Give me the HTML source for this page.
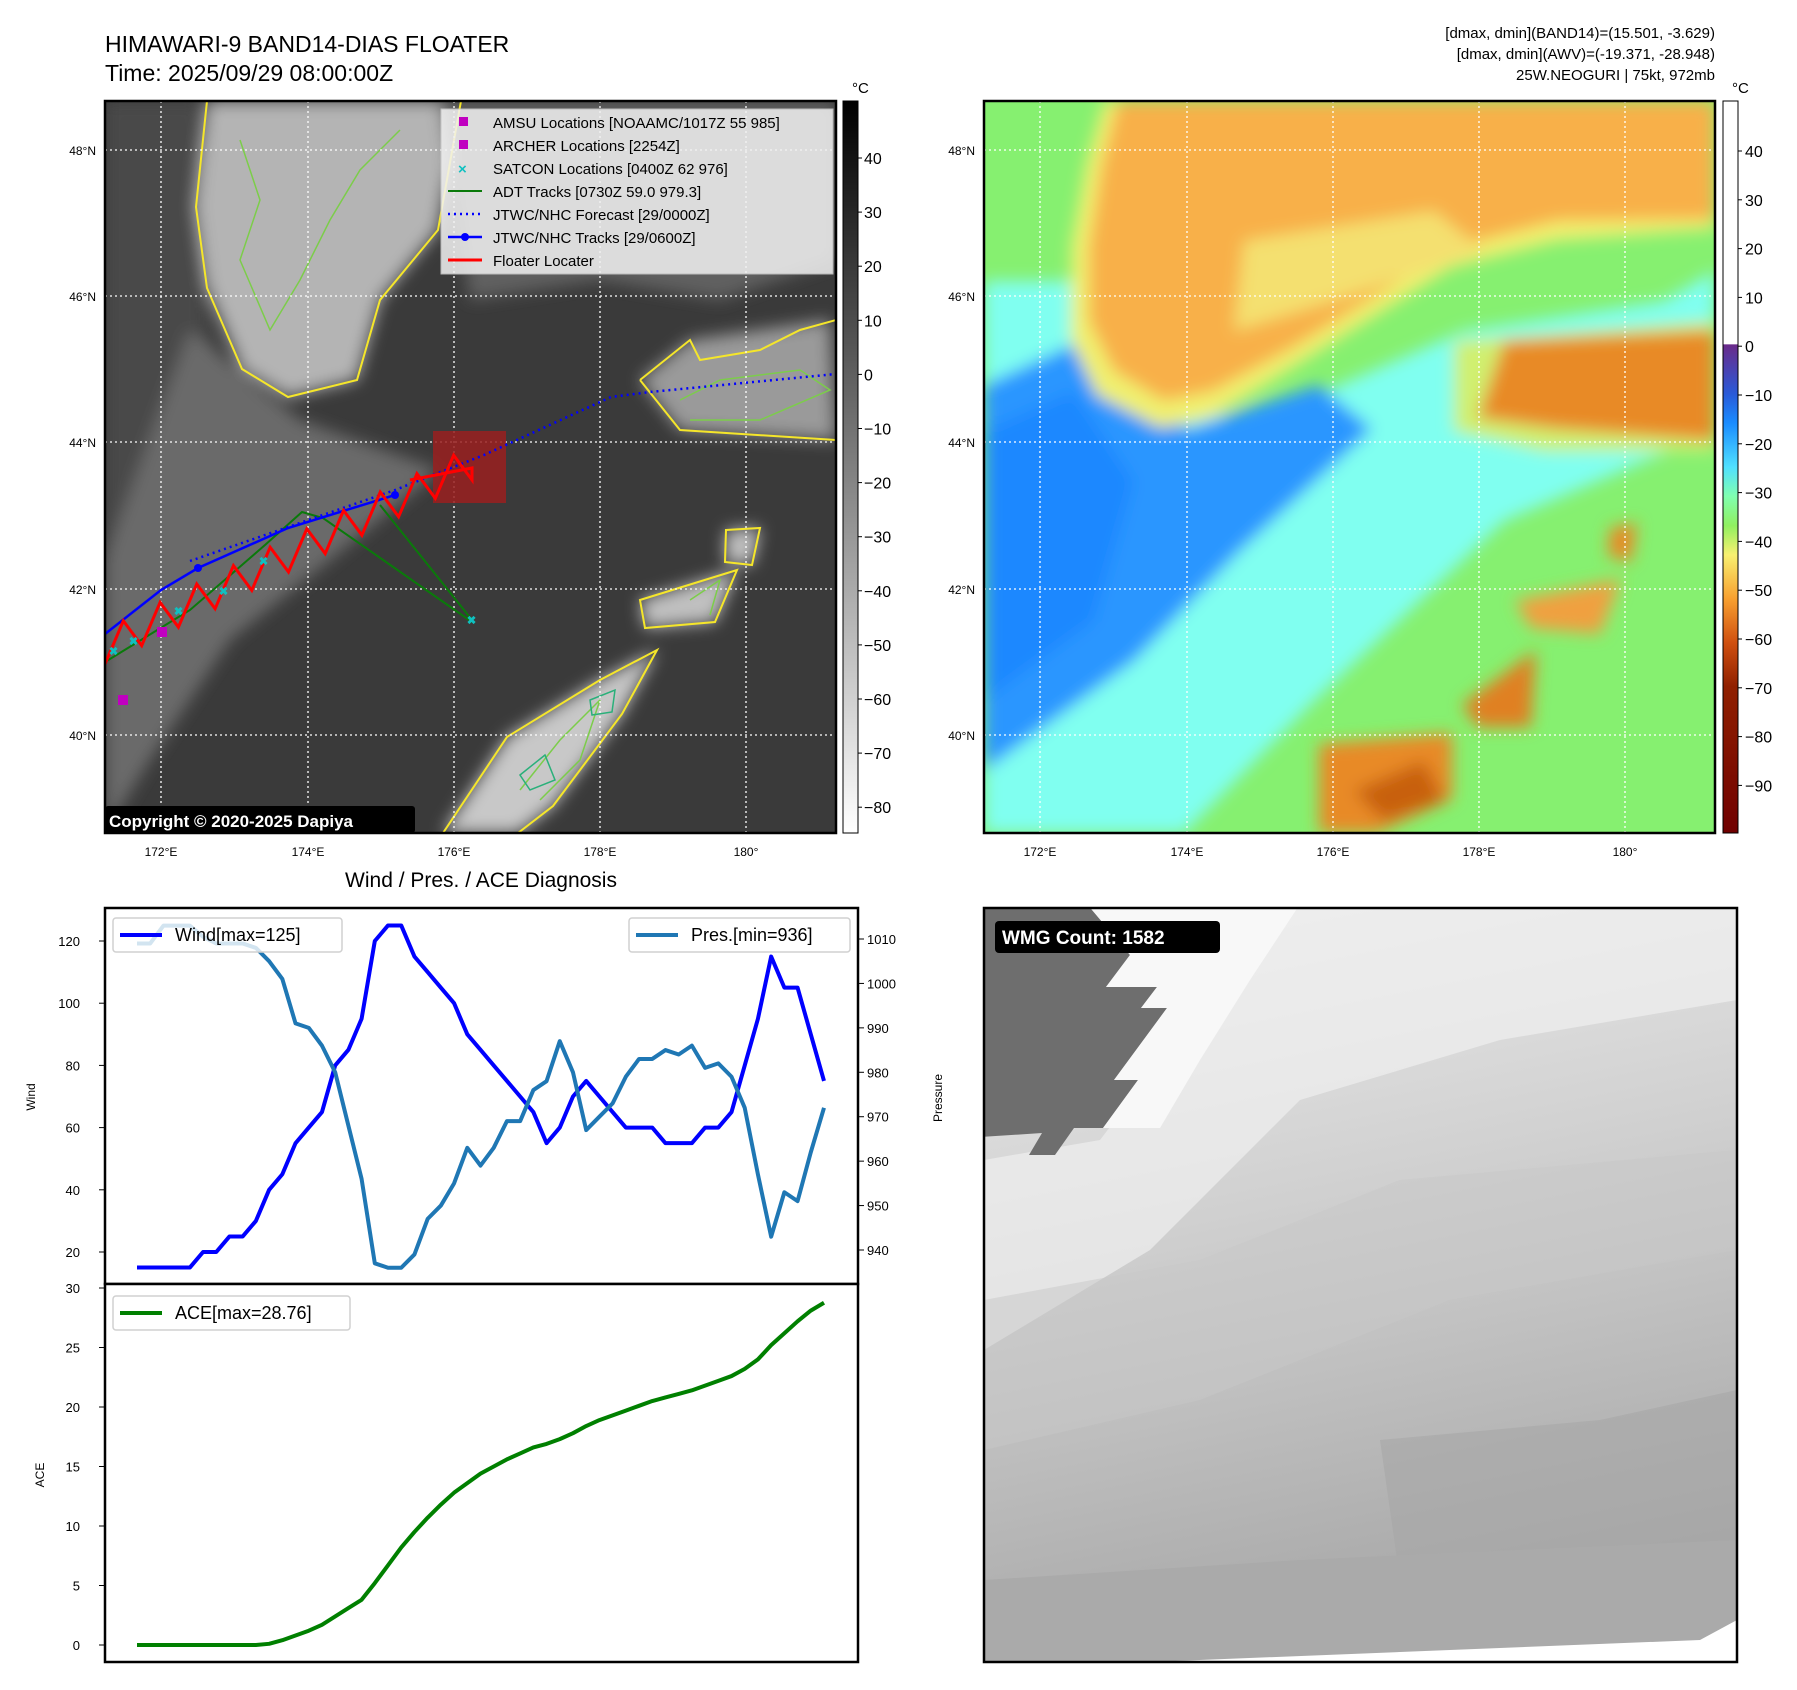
<!DOCTYPE html>
<html><head><meta charset="utf-8"><style>
html,body{margin:0;padding:0;background:#fff;overflow:hidden}
svg{display:block;font-family:"Liberation Sans","DejaVu Sans",sans-serif}
</style></head><body>
<svg id="fig" width="1797" height="1690" viewBox="0 0 1797 1690" xmlns="http://www.w3.org/2000/svg">
<defs>
<filter id="blur6" x="-10%" y="-10%" width="120%" height="120%"><feGaussianBlur stdDeviation="8"/></filter>
<clipPath id="clip1"><rect x="105" y="101" width="731" height="732"/></clipPath>
<clipPath id="clip2"><rect x="0" y="0" width="731" height="732"/></clipPath>
<clipPath id="clip3"><rect x="984" y="908" width="753" height="754"/></clipPath>
<linearGradient id="cb1" x1="0" y1="0" x2="0" y2="1"><stop offset="0" stop-color="#000"/><stop offset="1" stop-color="#fff"/></linearGradient>
<linearGradient id="cb2" x1="0" y1="0" x2="0" y2="1">
<stop offset="0" stop-color="#fff"/><stop offset="0.332" stop-color="#fff"/><stop offset="0.333" stop-color="#6a2a8a"/>
<stop offset="0.4" stop-color="#2a5ad8"/><stop offset="0.44" stop-color="#1a8cff"/><stop offset="0.5" stop-color="#50e0ff"/>
<stop offset="0.54" stop-color="#80ffb0"/><stop offset="0.58" stop-color="#90f060"/><stop offset="0.62" stop-color="#f8f070"/>
<stop offset="0.68" stop-color="#f8a030"/><stop offset="0.74" stop-color="#d05010"/><stop offset="0.8" stop-color="#902000"/><stop offset="1" stop-color="#700000"/></linearGradient>
<linearGradient id="wmg" x1="0" y1="0" x2="0.2" y2="1"><stop offset="0" stop-color="#ececec"/><stop offset="0.45" stop-color="#d0d0d0"/><stop offset="1" stop-color="#a8a8a8"/></linearGradient>
</defs>

<text x="105" y="52" font-size="23">HIMAWARI-9 BAND14-DIAS FLOATER</text>
<text x="105" y="81" font-size="23">Time: 2025/09/29 08:00:00Z</text>
<g font-size="15" text-anchor="end">
<text x="1715" y="38">[dmax, dmin](BAND14)=(15.501, -3.629)</text>
<text x="1715" y="59">[dmax, dmin](AWV)=(-19.371, -28.948)</text>
<text x="1715" y="80">25W.NEOGURI | 75kt, 972mb</text>
</g>

<!-- MAP 1 -->
<g clip-path="url(#clip1)">
<rect x="105" y="101" width="731" height="732" fill="#3a3a3a"/>
<g filter="url(#blur6)">
<polygon points="105,101 200,101 205,330 280,470 430,470 330,560 200,640 105,700" fill="#4a4a4a"/>
<polygon points="190,330 300,420 440,470 330,560 230,640 150,760 105,833 105,560" fill="#6a6a6a"/>
<polygon points="207,101 461,101 438,230 380,300 357,380 288,397 242,369 207,288 196,207" fill="#b4b4b4"/>
<polygon points="440,101 836,101 836,260 720,300 600,280 470,300" fill="#606060"/>
<polygon points="640,380 690,340 830,320 836,440 680,430" fill="#9a9a9a"/>
<polygon points="443,833 507,737 600,680 657,650 622,714 553,806 518,833" fill="#c8c8c8"/>
<polygon points="640,600 737,570 715,622 645,628" fill="#c0c0c0"/>
<polygon points="726,530 760,528 752,565 725,562" fill="#c0c0c0"/>
</g>
<g fill="none" stroke="#f5e62a" stroke-width="2">
<polygon points="207,101 461,101 438,230 380,300 357,380 288,397 242,369 207,288 196,207"/>
<polygon points="443,833 507,737 600,680 657,650 622,714 553,806 518,833"/>
<polygon points="640,600 737,570 715,622 645,628"/>
<polygon points="726,530 760,528 752,565 725,562"/>
<polyline points="640,380 690,340 700,360 760,350 800,330 836,320 836,440 680,430 640,380"/>
</g>
<g fill="none" stroke="#7ccd4a" stroke-width="1.5">
<polyline points="240,140 260,200 240,260 270,330 300,280 330,220 360,170 400,130"/>
<polyline points="520,790 560,740 600,700 580,760 540,800"/>
<polyline points="690,600 720,580 710,615"/>
<polyline points="680,400 720,380 800,370 830,390 760,420 690,420"/>
</g>
<g fill="none" stroke="#2ab07a" stroke-width="1.5"><polygon points="520,775 545,755 555,780 530,790"/><polygon points="590,700 615,690 612,712 592,715"/></g>
<g stroke="#fff" stroke-width="1.3" stroke-dasharray="2,3">
<line x1="161" y1="101" x2="161" y2="833"/><line x1="308" y1="101" x2="308" y2="833"/><line x1="454" y1="101" x2="454" y2="833"/><line x1="600" y1="101" x2="600" y2="833"/><line x1="746" y1="101" x2="746" y2="833"/>
<line x1="105" y1="150" x2="836" y2="150"/><line x1="105" y1="296" x2="836" y2="296"/><line x1="105" y1="442" x2="836" y2="442"/><line x1="105" y1="589" x2="836" y2="589"/><line x1="105" y1="735" x2="836" y2="735"/>
</g>
<rect x="433" y="431" width="73" height="72" fill="#9a2020" opacity="0.85"/>
<polyline points="105,662 190,610 265,545 302,512 323,518 472,622" fill="none" stroke="#0a7a0a" stroke-width="2"/>
<polyline points="380,505 472,620" fill="none" stroke="#0a7a0a" stroke-width="2"/>
<polyline points="190,561 395,490 484,455 611,397 650,392 836,374" fill="none" stroke="#0000ff" stroke-width="2.5" stroke-dasharray="2,4"/>
<polyline points="105,634 161,590 198,568 288,528 395,495" fill="none" stroke="#0000ff" stroke-width="2.5"/>
<circle cx="198" cy="568" r="4" fill="#0000ff"/><circle cx="395" cy="495" r="4" fill="#0000ff"/>
<polyline id="zig" fill="none" stroke="#ff0000" stroke-width="3"/>
<g fill="#c000c0"><rect x="157" y="627" width="10" height="10"/><rect x="118" y="695" width="10" height="10"/></g>
<g stroke="#10c0c0" stroke-width="2" font-size="12" fill="#10c0c0">
<text x="468" y="624">×</text><text x="260" y="565">×</text><text x="220" y="595">×</text><text x="175" y="615">×</text><text x="130" y="645">×</text><text x="110" y="655">×</text>
</g>
</g>
<rect x="105" y="101" width="731" height="732" fill="none" stroke="#000" stroke-width="2.5"/>
<g>
<rect x="441" y="109" width="392" height="165" fill="#f2f2f2" opacity="0.85" stroke="#ccc"/>
<g font-size="15">
<rect x="459" y="117" width="9" height="9" fill="#c000c0"/><text x="493" y="128">AMSU Locations [NOAAMC/1017Z 55 985]</text>
<rect x="459" y="140" width="9" height="9" fill="#c000c0"/><text x="493" y="151">ARCHER Locations [2254Z]</text>
<text x="458" y="174" fill="#10c0c0" font-weight="bold">×</text><text x="493" y="174">SATCON Locations [0400Z 62 976]</text>
<line x1="448" y1="191" x2="482" y2="191" stroke="#0a7a0a" stroke-width="2"/><text x="493" y="197">ADT Tracks [0730Z 59.0 979.3]</text>
<line x1="448" y1="214" x2="482" y2="214" stroke="#00f" stroke-width="2.5" stroke-dasharray="2,4"/><text x="493" y="220">JTWC/NHC Forecast [29/0000Z]</text>
<line x1="448" y1="237" x2="482" y2="237" stroke="#00f" stroke-width="2.5"/><circle cx="465" cy="237" r="4" fill="#00f"/><text x="493" y="243">JTWC/NHC Tracks [29/0600Z]</text>
<line x1="448" y1="260" x2="482" y2="260" stroke="#f00" stroke-width="3"/><text x="493" y="266">Floater Locater</text>
</g></g>
<rect x="105" y="806" width="310" height="27" rx="3" fill="#000"/>
<text x="109" y="827" fill="#fff" font-size="17" font-weight="bold">Copyright © 2020-2025 Dapiya</text>
<g font-size="12">
<g text-anchor="end"><text x="96" y="155">48°N</text><text x="96" y="301">46°N</text><text x="96" y="447">44°N</text><text x="96" y="594">42°N</text><text x="96" y="740">40°N</text></g>
<g text-anchor="middle"><text x="161" y="856">172°E</text><text x="308" y="856">174°E</text><text x="454" y="856">176°E</text><text x="600" y="856">178°E</text><text x="746" y="856">180°</text></g>
</g>
<g>
<rect x="843" y="101" width="15" height="732" fill="url(#cb1)" stroke="#000"/>
<text x="852" y="93" font-size="15">°C</text>
<g id="cb1ticks" font-size="16"></g>
</g>

<!-- MAP 2 -->
<g transform="translate(984,101)">
<g clip-path="url(#clip2)">
<rect width="731" height="732" fill="#86f070"/>
<g filter="url(#blur6)">
<polygon points="0,180 140,180 250,330 480,230 680,200 731,170 731,330 520,420 330,600 200,732 0,732" fill="#80fff0"/>
<polygon points="0,284 97,240 203,328 335,284 388,328 256,450 150,560 0,670" fill="#2a96ff"/>
<polygon points="0,330 90,290 150,380 110,520 0,600" fill="#1e88ff"/>
<polygon points="120,0 731,0 731,128 573,140 467,167 388,217 308,267 229,316 176,327 113,294 87,239 87,146 102,63" fill="#f0f070"/>
<polygon points="134,0 731,0 731,118 573,120 467,147 388,197 308,247 229,290 180,300 130,270 105,220 105,146 118,63" fill="#f8b048"/>
<polygon points="260,140 450,110 500,150 350,200 250,230" fill="#f4e070"/>
<polygon points="470,240 731,220 731,350 560,350 470,330" fill="#d0f070"/>
<polygon points="520,240 731,229 731,340 573,328 494,317" fill="#e88a28"/>
<polygon points="531,500 637,478 616,533 547,527" fill="#f0a040"/>
<polygon points="626,427 653,422 647,461 624,455" fill="#e88a28"/>
<polygon points="478,604 552,549 547,626 494,626" fill="#e08020"/>
<polygon points="335,732 335,643 468,632 468,698 393,732" fill="#e88a28"/>
<polygon points="370,690 440,660 460,700 400,720" fill="#c86010"/>
</g>
<g stroke="#fff" stroke-width="1.3" stroke-dasharray="2,3">
<line x1="56" y1="0" x2="56" y2="732"/><line x1="203" y1="0" x2="203" y2="732"/><line x1="349" y1="0" x2="349" y2="732"/><line x1="495" y1="0" x2="495" y2="732"/><line x1="641" y1="0" x2="641" y2="732"/>
<line x1="0" y1="49" x2="731" y2="49"/><line x1="0" y1="195" x2="731" y2="195"/><line x1="0" y1="341" x2="731" y2="341"/><line x1="0" y1="488" x2="731" y2="488"/><line x1="0" y1="634" x2="731" y2="634"/>
</g>
</g>
<rect width="731" height="732" fill="none" stroke="#000" stroke-width="2.5"/>
</g>
<g font-size="12">
<g text-anchor="end"><text x="975" y="155">48°N</text><text x="975" y="301">46°N</text><text x="975" y="447">44°N</text><text x="975" y="594">42°N</text><text x="975" y="740">40°N</text></g>
<g text-anchor="middle"><text x="1040" y="856">172°E</text><text x="1187" y="856">174°E</text><text x="1333" y="856">176°E</text><text x="1479" y="856">178°E</text><text x="1625" y="856">180°</text></g>
</g>
<g>
<rect x="1723" y="101" width="15" height="732" fill="url(#cb2)" stroke="#000"/>
<text x="1732" y="93" font-size="15">°C</text>
<g id="cb2ticks" font-size="16"></g>
</g>

<text x="481" y="887" font-size="21" text-anchor="middle">Wind / Pres. / ACE Diagnosis</text>
<g id="diag"></g>

<g clip-path="url(#clip3)">
<rect x="984" y="908" width="753" height="754" fill="url(#wmg)"/>
<polygon points="984,1160 1100,1140 1200,1010 1300,904 1737,904 1737,1000 1500,1040 1300,1100 1150,1250 984,1350" fill="#f0f0f0" opacity="0.7"/>
<polygon points="984,1300 1200,1260 1400,1180 1737,1150 1737,1250 1450,1300 1200,1400 984,1450" fill="#c8c8c8" opacity="0.5"/>
<polygon points="1380,1440 1600,1420 1737,1390 1737,1560 1400,1580" fill="#a6a6a6" opacity="0.6"/>
<polygon points="984,1580 1300,1560 1737,1540 1737,1662 984,1662" fill="#aaaaaa"/>
<polygon points="1150,1662 1700,1640 1737,1620 1737,1662" fill="#fff"/>
<polygon points="981,904 1087,904 1130,955 1106,987 1157,987 1141,1008 1167,1008 1114,1080 1138,1080 1103,1128 1074,1128 1055,1155 1029,1155 1042,1133 981,1137" fill="#6e6e6e"/>
<polygon points="1087,904 1130,955 1106,987 1157,987 1141,1008 1167,1008 1114,1080 1138,1080 1103,1128 1160,1128 1200,1060 1250,980 1300,904" fill="#f8f8f8"/>
</g>
<rect x="984" y="908" width="753" height="754" fill="none" stroke="#000" stroke-width="2.5"/>
<rect x="995" y="921" width="225" height="32" rx="4" fill="#000"/>
<text x="1002" y="944" fill="#fff" font-size="19" font-weight="bold">WMG Count: 1582</text>
</svg>

<script>
const categories = Array.from({length:53},(_,i)=>i);
const windValues = [15,15,15,15,15,20,20,25,25,30,40,45,55,60,65,80,85,95,120,125,125,115,110,105,100,90,85,80,75,70,65,55,60,70,75,70,65,60,60,60,55,55,55,60,60,65,80,95,115,105,105,90,75];
const presValues = [1009,1009,1013,1013,1013,1010.5,1009,1009,1009,1008,1005,1001,991,990,986,980,968,956,937,936,936,939,947,950,955,963,959,963,969,969,976,978,987,980,967,970,973,979,983,983,985,984,986,981,982,979,972,957,943,953,951,962,972];
const aceValues = [0,0,0,0,0,0,0,0,0,0,0.1,0.4,0.8,1.2,1.7,2.4,3.1,3.8,5.2,6.7,8.2,9.5,10.7,11.8,12.8,13.6,14.4,15.0,15.6,16.1,16.6,16.9,17.3,17.8,18.4,18.9,19.3,19.7,20.1,20.5,20.8,21.1,21.4,21.8,22.2,22.6,23.2,24.0,25.2,26.2,27.2,28.1,28.76];
const windTicks = [20,40,60,80,100,120];
const presTicks = [940,950,960,970,980,990,1000,1010];
const aceTicks = [0,5,10,15,20,25,30];
const cb1Ticks = [40,30,20,10,0,-10,-20,-30,-40,-50,-60,-70,-80];
const cb2Ticks = [40,30,20,10,0,-10,-20,-30,-40,-50,-60,-70,-80,-90];

const NS='http://www.w3.org/2000/svg';
function mk(tag,attrs,parent){const e=document.createElementNS(NS,tag);for(const k in attrs)e.setAttribute(k,attrs[k]);parent.appendChild(e);return e;}
const xS = i => 137 + i*(824-137)/(categories.length-1);
const yW = v => 941 + (120-v)*(1252-941)/100;
const yP = p => 939 + (1010-p)*(1250-939)/70;
const yA = a => 1645 - a*(1645-1288)/30;
const yC1 = t => 158 + (40-t)*5.41;
const yC2 = t => 151 + (40-t)*4.88;
const fmt = v => (v<0?'\u2212'+(-v):''+v);

const cb1=document.getElementById('cb1ticks');
cb1Ticks.forEach(t=>{const y=yC1(t);
 mk('line',{x1:858,y1:y,x2:862,y2:y,stroke:'#000'},cb1);
 const tx=mk('text',{x:864,y:y+6},cb1);tx.textContent=fmt(t);
 
 });
const cb2=document.getElementById('cb2ticks');
cb2Ticks.forEach(t=>{const y=yC2(t);
 mk('line',{x1:1738,y1:y,x2:1742,y2:y,stroke:'#000'},cb2);
 const tx=mk('text',{x:1745,y:y+6},cb2);tx.textContent=fmt(t);
 
 });

(function(){const z=document.getElementById('zig');let pts=[];
 const x0=105,y0=652,x1=472,y1=468,n=20;
 for(let i=0;i<=n;i++){const t=i/n;const x=x0+(x1-x0)*t,y=y0+(y1-y0)*t;
  pts.push(x+','+(y+ (i%2?-22:12)));}
 pts.push('472,468');pts.push('410,480');
 z.setAttribute('points',pts.join(' '));})();

const g=document.getElementById('diag');
mk('rect',{x:105,y:908,width:753,height:376,fill:'#fff',stroke:'#000','stroke-width':2.5},g);
mk('rect',{x:105,y:1284,width:753,height:378,fill:'#fff',stroke:'#000','stroke-width':2.5},g);
windTicks.forEach(t=>{const y=yW(t);mk('line',{x1:99,y1:y,x2:105,y2:y,stroke:'#000'},g);
 const tx=mk('text',{x:80,y:y+5,'font-size':13,'text-anchor':'end'},g);tx.textContent=t;
 
 });
presTicks.forEach(t=>{const y=yP(t);mk('line',{x1:858,y1:y,x2:864,y2:y,stroke:'#000'},g);
 const tx=mk('text',{x:867,y:y+5,'font-size':13},g);tx.textContent=t;
 
 });
aceTicks.forEach(t=>{const y=yA(t);mk('line',{x1:99,y1:y,x2:105,y2:y,stroke:'#000'},g);
 const tx=mk('text',{x:80,y:y+5,'font-size':13,'text-anchor':'end'},g);tx.textContent=t;
 
 });
function lab(txt,x,y,name){const t=mk('text',{x:x,y:y,'font-size':12,'text-anchor':'middle',transform:`rotate(-90 ${x} ${y})`},g);t.textContent=txt;
 
 }
lab('Wind',35,1097,'wind-axis-title');lab('Pressure',942,1098,'pressure-axis-title');lab('ACE',44,1475,'ace-axis-title');

const wl=mk('polyline',{points:categories.map(i=>xS(i)+','+yW(windValues[i])).join(' '),fill:'none',stroke:'#0000ff','stroke-width':4,'stroke-linejoin':'round'},g);


const pl=mk('polyline',{points:categories.map(i=>xS(i)+','+yP(presValues[i])).join(' '),fill:'none',stroke:'#1f77b4','stroke-width':4,'stroke-linejoin':'round'},g);


const al=mk('polyline',{points:categories.map(i=>xS(i)+','+yA(aceValues[i])).join(' '),fill:'none',stroke:'#008000','stroke-width':4,'stroke-linejoin':'round'},g);



function legend(x,y,w,col,txt,name){const lg=mk('g',{},g);
 
 
 mk('rect',{x:x,y:y,width:w,height:34,rx:3,fill:'#fff','fill-opacity':0.8,stroke:'#d0d0d0','stroke-width':1.5},lg);
 mk('line',{x1:x+7,y1:y+17,x2:x+49,y2:y+17,stroke:col,'stroke-width':4},lg);
 const t=mk('text',{x:x+62,y:y+23,'font-size':18},lg);t.textContent=txt;}
legend(113,918,229,'#0000ff','Wind[max=125]','wind-legend');
legend(629,918,221,'#1f77b4','Pres.[min=936]','pressure-legend');
legend(113,1296,237,'#008000','ACE[max=28.76]','ace-legend');
</script>
</body></html>
